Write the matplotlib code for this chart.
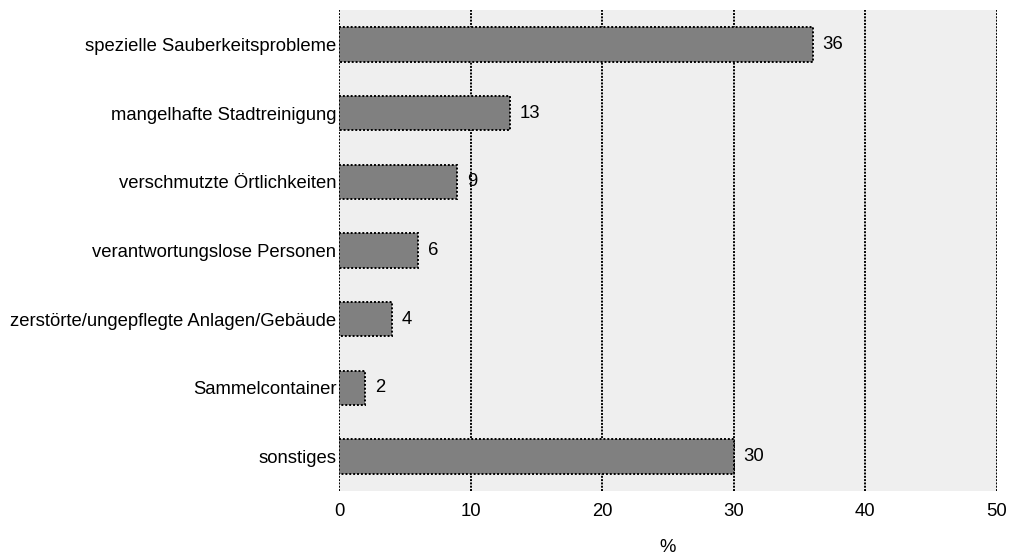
import matplotlib
matplotlib.use("Agg")
import matplotlib.pyplot as plt

# data
categories = [
    "spezielle Sauberkeitsprobleme",
    "mangelhafte Stadtreinigung",
    "verschmutzte Örtlichkeiten",
    "verantwortungslose Personen",
    "zerstörte/ungepflegte Anlagen/Gebäude",
    "Sammelcontainer",
    "sonstiges",
]
values = [36, 13, 9, 6, 4, 2, 30]
xticks = [0, 10, 20, 30, 40, 50]

plt.rcParams['font.family'] = ['Liberation Sans', 'DejaVu Sans']
fs = 13.3

fig = plt.figure(figsize=(10.11, 5.55), dpi=100)
ax = fig.add_axes([339 / 1011, 64 / 555, 658 / 1011, 481 / 555])
ax.set_facecolor('#efefef')

pos = list(range(len(categories)))
ax.barh(pos, values, height=0.5, color='#808080', edgecolor='black',
        linestyle=(0, (1, 1)), linewidth=1.4, zorder=3)

for p, v in zip(pos, values):
    ax.text(v + 0.75, p, str(v), va='center', ha='left', fontsize=fs, zorder=4)

for x in xticks:
    ax.axvline(x, color='black', linestyle=(0, (1, 0.7)), linewidth=1.4, zorder=2)

ax.set_xlim(0, 50)
ax.set_ylim(6.5, -0.5)
ax.set_yticks(pos)
ax.set_yticklabels(categories, fontsize=fs)
ax.set_xticks(xticks)
ax.set_xticklabels([str(x) for x in xticks], fontsize=fs)
ax.tick_params(length=0, pad=9)
ax.tick_params(axis='y', pad=2)
ax.set_xlabel('%', fontsize=fs, labelpad=13)

for s in ax.spines.values():
    s.set_visible(False)

fig.savefig('out.png', dpi=100)
